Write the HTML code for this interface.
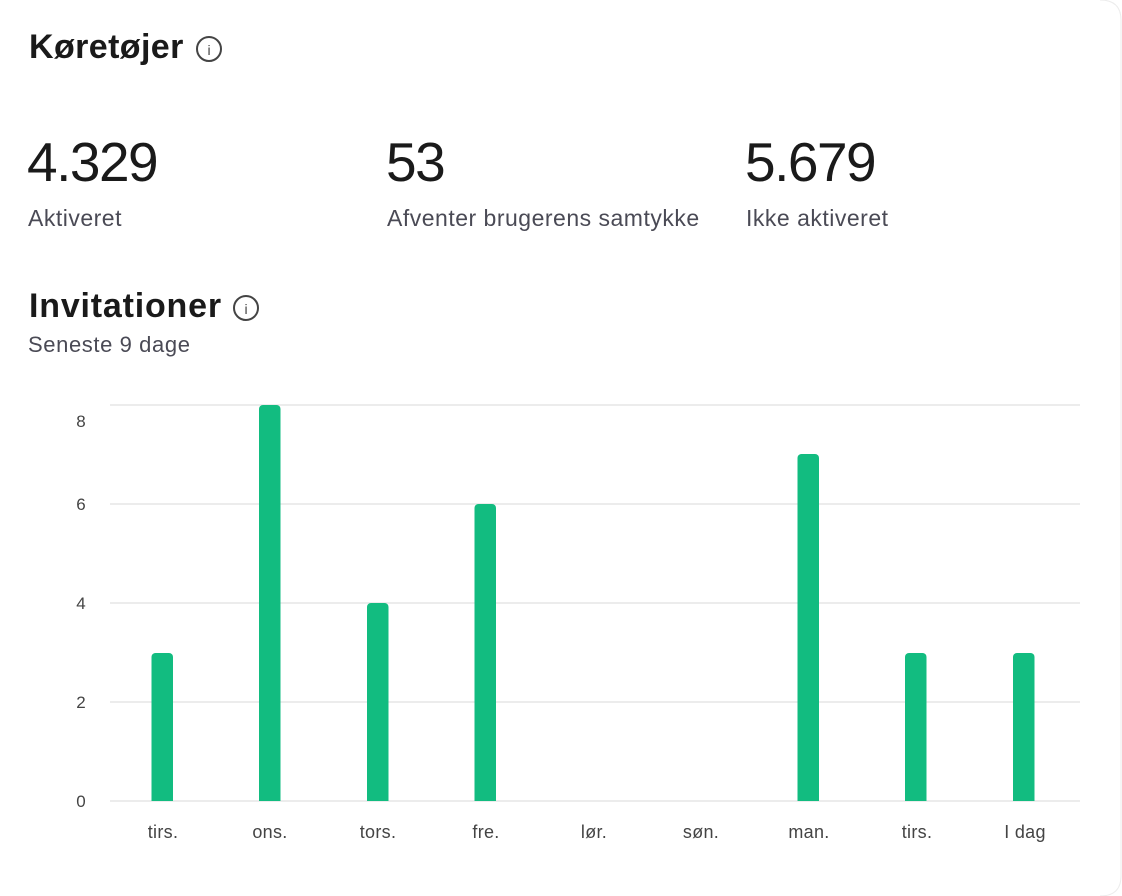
<!DOCTYPE html>
<html><head><meta charset="utf-8"><style>
html,body{margin:0;padding:0;background:#fff;}
svg{display:block}
text{font-family:"Liberation Sans",sans-serif;}
</style></head><body>
<svg width="1122" height="896" viewBox="0 0 1122 896" xmlns="http://www.w3.org/2000/svg">
<rect x="0" y="0" width="1121" height="896" fill="#fff"/>
<path d="M1100 0 Q1121 0 1121 20 L1121 876 Q1121 896 1100 896" fill="none" stroke="#ececec" stroke-width="1"/>
<text x="29" y="58" font-size="34" font-weight="bold" fill="#1a1a1a" letter-spacing="0.4">Køretøjer</text>
<circle cx="209" cy="49" r="12" fill="none" stroke="#444" stroke-width="2"/>
<text x="209" y="55" font-size="14" fill="#444" text-anchor="middle" font-family="Liberation Serif">i</text>
<g font-size="55" fill="#1a1a1a" font-weight="300" letter-spacing="-1.5">
<text x="27" y="181">4.329</text>
<text x="386" y="181">53</text>
<text x="745" y="181">5.679</text>
</g>
<g font-size="23" fill="#4a4a55" letter-spacing="0.5">
<text x="28" y="226">Aktiveret</text>
<text x="387" y="226">Afventer brugerens samtykke</text>
<text x="746" y="226">Ikke aktiveret</text>
</g>
<text x="29" y="317" font-size="34" font-weight="bold" fill="#1a1a1a" letter-spacing="0.8">Invitationer</text>
<circle cx="246" cy="308" r="12" fill="none" stroke="#444" stroke-width="2"/>
<text x="246" y="314" font-size="14" fill="#444" text-anchor="middle" font-family="Liberation Serif">i</text>
<text x="28" y="352" font-size="22" fill="#4a4a55" letter-spacing="0.6">Seneste 9 dage</text>
<g stroke="#e6e6e6" stroke-width="1.5">
<line x1="110" y1="405" x2="1080" y2="405"/>
<line x1="110" y1="504" x2="1080" y2="504"/>
<line x1="110" y1="603" x2="1080" y2="603"/>
<line x1="110" y1="702" x2="1080" y2="702"/>
<line x1="110" y1="801" x2="1080" y2="801"/>
</g>
<g font-size="17" fill="#444" text-anchor="middle">
<text x="81" y="427">8</text>
<text x="81" y="510">6</text>
<text x="81" y="609">4</text>
<text x="81" y="708">2</text>
<text x="81" y="807">0</text>
</g>
<g fill="#12bc80">
<path d="M151.5 801 V657 a4 4 0 0 1 4 -4 h13.5 a4 4 0 0 1 4 4 V801Z"/>
<path d="M259 801 V409 a4 4 0 0 1 4 -4 h13.5 a4 4 0 0 1 4 4 V801Z"/>
<path d="M367 801 V607 a4 4 0 0 1 4 -4 h13.5 a4 4 0 0 1 4 4 V801Z"/>
<path d="M474.5 801 V508 a4 4 0 0 1 4 -4 h13.5 a4 4 0 0 1 4 4 V801Z"/>
<path d="M797.5 801 V458 a4 4 0 0 1 4 -4 h13.5 a4 4 0 0 1 4 4 V801Z"/>
<path d="M905 801 V657 a4 4 0 0 1 4 -4 h13.5 a4 4 0 0 1 4 4 V801Z"/>
<path d="M1013 801 V657 a4 4 0 0 1 4 -4 h13.5 a4 4 0 0 1 4 4 V801Z"/>
</g>
<g font-size="18" fill="#444" text-anchor="middle" letter-spacing="0.3">
<text x="163" y="838">tirs.</text>
<text x="270" y="838">ons.</text>
<text x="378" y="838">tors.</text>
<text x="486" y="838">fre.</text>
<text x="594" y="838">lør.</text>
<text x="701" y="838">søn.</text>
<text x="809" y="838">man.</text>
<text x="917" y="838">tirs.</text>
<text x="1025" y="838">I dag</text>
</g>
</svg>
</body></html>
